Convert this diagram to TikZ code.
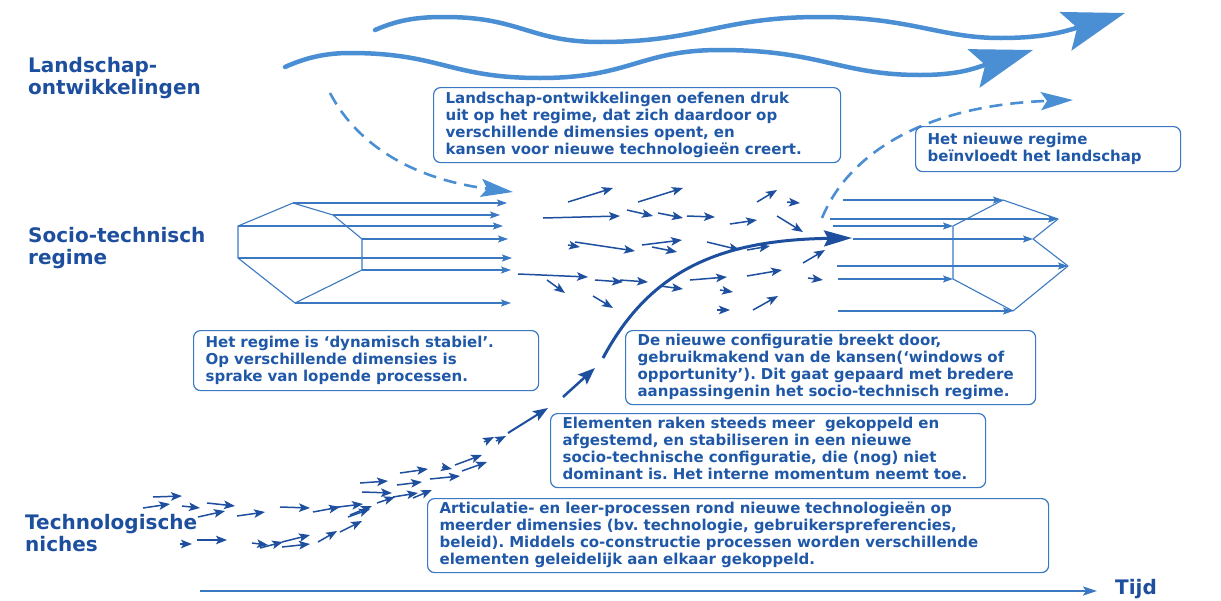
\documentclass[tikz,border=0pt]{standalone}
\usepackage{fontspec}
\setmainfont{DejaVu Sans}
\usetikzlibrary{arrows.meta}
\definecolor{dkblue}{HTML}{1D4F9E}
\definecolor{mdblue}{HTML}{3A78C2}
\definecolor{ltblue}{HTML}{4A8ED3}
\definecolor{txblue}{HTML}{2058A8}
\tikzset{
 sarr/.style={dkblue, line width=1.5pt, -{Stealth[length=11pt,width=8.5pt,inset=2.5pt]}},
 harr/.style={mdblue, line width=1.1pt, -{Stealth[length=10pt,width=7pt,inset=2pt]}},
 hexline/.style={mdblue, line width=1.1pt, line join=round},
 wave/.style={ltblue, line width=4.5pt, line cap=round, -{Stealth[length=62pt,width=40pt,inset=12pt]}},
 dasharr/.style={ltblue, line width=2.6pt, dash pattern=on 13pt off 8pt, -{Stealth[length=32pt,width=18pt,inset=6pt]}},
 infobox/.style={draw=mdblue, line width=1.2pt, rounded corners=7pt, anchor=north west,
   inner xsep=12pt, inner ysep=3pt, font=\fontsize{15}{17}\selectfont\bfseries\frenchspacing, text=txblue},
 lbl/.style={anchor=north west, inner sep=0pt, font=\fontsize{20}{22}\selectfont\bfseries, text=dkblue, align=left},
}
\newcommand{\boxtext}[1]{\noindent\begin{tabular}{@{}l@{}}#1\end{tabular}}
\begin{document}
\begin{tikzpicture}[x=1pt,y=-1pt]
\useasboundingbox (0,0) rectangle (1221,600);

% labels
\node[lbl] (lland) at (28,57) {Landschap-\\ontwikkelingen};
\node[lbl] (lregime) at (28,227) {Socio-technisch\\regime};
\node[lbl] (lniche) at (25,514) {Technologische\\niches};
\node[lbl] (ltijd) at (1115,579) {Tijd};

% landscape waves
\draw[wave] (375,30) .. controls (400,19) and (420,17) .. (445,17)
  .. controls (520,17) and (530,42) .. (600,42)
  .. controls (700,42) and (720,17) .. (820,17)
  .. controls (910,17) and (940,38) .. (1000,38)
  .. controls (1040,38) and (1060,33) .. (1125,13);
\draw[wave] (285,67) .. controls (305,58) and (325,53) .. (350,53)
  .. controls (440,53) and (450,78) .. (540,78)
  .. controls (630,78) and (640,50) .. (720,50)
  .. controls (820,50) and (840,75) .. (920,75)
  .. controls (960,75) and (975,68) .. (1033,50);

% dashed arrows
\draw[dasharr] (330,93) .. controls (360,150) and (420,180) .. (513,192);
\draw[dasharr] (822,218) .. controls (850,150) and (930,105) .. (1073,100);

% left regime shape
\draw[hexline] (238,226) -- (293,203) -- (333,215) -- (362,239) -- (362,270) -- (295,303) -- (238,258) -- cycle;
\foreach \xa/\y/\xb in {293/203/507, 333/215/500, 362/239/508, 362/270/511, 295/303/511}
  \draw[harr] (\xa,\y) -- (\xb,\y);
\draw[harr, line width=1.8pt] (238,226) -- (503,226);
\draw[harr, line width=1.8pt] (238,258) -- (512,258);

% right regime shape
\draw[hexline] (953,226) -- (1003,200) -- (1058,219) -- (1033,239) -- (1068,266) -- (1013,311) -- (953,279) -- cycle;
\foreach \xa/\y/\xb in {843/200/1003, 830/219/1058, 833/226/953, 853/239/1033, 837/266/1068, 838/279/953, 838/311/1013}
  \draw[harr] (\xa,\y) -- (\xb,\y);

% scattered arrows in the regime
\foreach \a/\b/\c/\d in {568/202/613/188, 638/202/683/188, 543/218/620/216, 627/210/653/216,
  658/213/683/218, 687/216/715/217, 730/224/757/220, 757/202/777/190, 787/202/800/203,
  777/216/803/232, 568/245/580/247, 575/242/635/251, 642/245/682/240, 652/247/677/252,
  707/242/740/250, 747/250/770/246, 803/263/825/250, 518/274/588/277, 547/280/565/293,
  595/280/623/282, 620/280/648/282, 660/286/683/289, 690/280/727/277, 720/290/733/292,
  747/276/782/270, 808/278/823/280, 593/296/613/308, 717/310/730/310, 753/310/778/296}
  \draw[sarr] (\a,\b) -- (\c,\d);

% niche arrows
\foreach \a/\b/\c/\d in {153/497/182/496, 143/508/170/504, 182/506/200/508, 207/503/235/506,
  198/517/225/511, 237/516/265/512, 280/507/310/508, 313/512/340/507, 330/508/363/504,
  348/517/370/509, 360/483/388/481, 362/492/392/493, 377/503/395/497, 400/473/428/469,
  397/485/422/482, 393/497/418/493, 413/498/432/490, 430/479/460/476, 442/467/452/469,
  455/465/482/455, 462/471/487/462, 484/442/494/437, 496/441/506/436,
  180/544/192/544, 197/540/227/540, 252/543/268/545, 260/548/283/542, 282/542/310/535,
  282/547/310/544, 318/542/337/531, 340/532/362/521, 350/515/372/506}
  \draw[sarr] (\a,\b) -- (\c,\d);
\draw[dkblue, line width=2pt, -{Stealth[length=15pt,width=11pt,inset=3pt]}] (508,433) -- (548,408);
\draw[dkblue, line width=2.5pt, -{Stealth[length=17pt,width=13pt,inset=3pt]}] (563,397) -- (595,368);

% breakthrough curve
\draw[dkblue, line width=3pt, -{Stealth[length=28pt,width=16pt,inset=4pt]}]
  (603,358) .. controls (650,270) and (720,240) .. (852,238);

% time axis
\coordinate (t0) at (200,591);
\coordinate (t1) at (1097,591);
\draw[mdblue, line width=2pt, -{Stealth[length=14pt,width=9pt,inset=3pt]}] (t0) -- (t1);

% text boxes
\node[infobox, text width=383pt, minimum height=75pt] (b1) at (433,87) {\boxtext{%
Landschap-ontwikkelingen oefenen druk\\
uit op het regime, dat zich daardoor op\\
verschillende dimensies opent, en\\
kansen voor nieuwe technologieën creert.}};
\node[infobox, text width=241pt, minimum height=45pt] (b2) at (915,126) {\boxtext{%
Het nieuwe regime\\
beïnvloedt het landschap}};
\node[infobox, text width=321pt, minimum height=60pt] (b3) at (193,330) {\boxtext{%
Het regime is ‘dynamisch stabiel’.\\
Op verschillende dimensies is\\
sprake van lopende processen.}};
\node[infobox, text width=386pt, minimum height=72pt] (b4) at (625,330) {\boxtext{%
De nieuwe configuratie breekt door,\\
gebruikmakend van de kansen(‘windows of\\
opportunity’). Dit gaat gepaard met bredere\\
aanpassingenin het socio-technisch regime.}};
\node[infobox, text width=411pt, minimum height=73pt] (b5) at (550,413) {\boxtext{%
Elementen raken steeds meer \ gekoppeld en\\
afgestemd, en stabiliseren in een nieuwe\\
socio-technische configuratie, die (nog) niet\\
dominant is. Het interne momentum neemt toe.}};
\node[infobox, text width=597pt, minimum height=74pt] (b6) at (427,498) {\boxtext{%
Articulatie- en leer-processen rond nieuwe technologieën op\\
meerder dimensies (bv. technologie, gebruikerspreferencies,\\
beleid). Middels co-constructie processen worden verschillende\\
elementen geleidelijk aan elkaar gekoppeld.}};
\end{tikzpicture}
\end{document}
